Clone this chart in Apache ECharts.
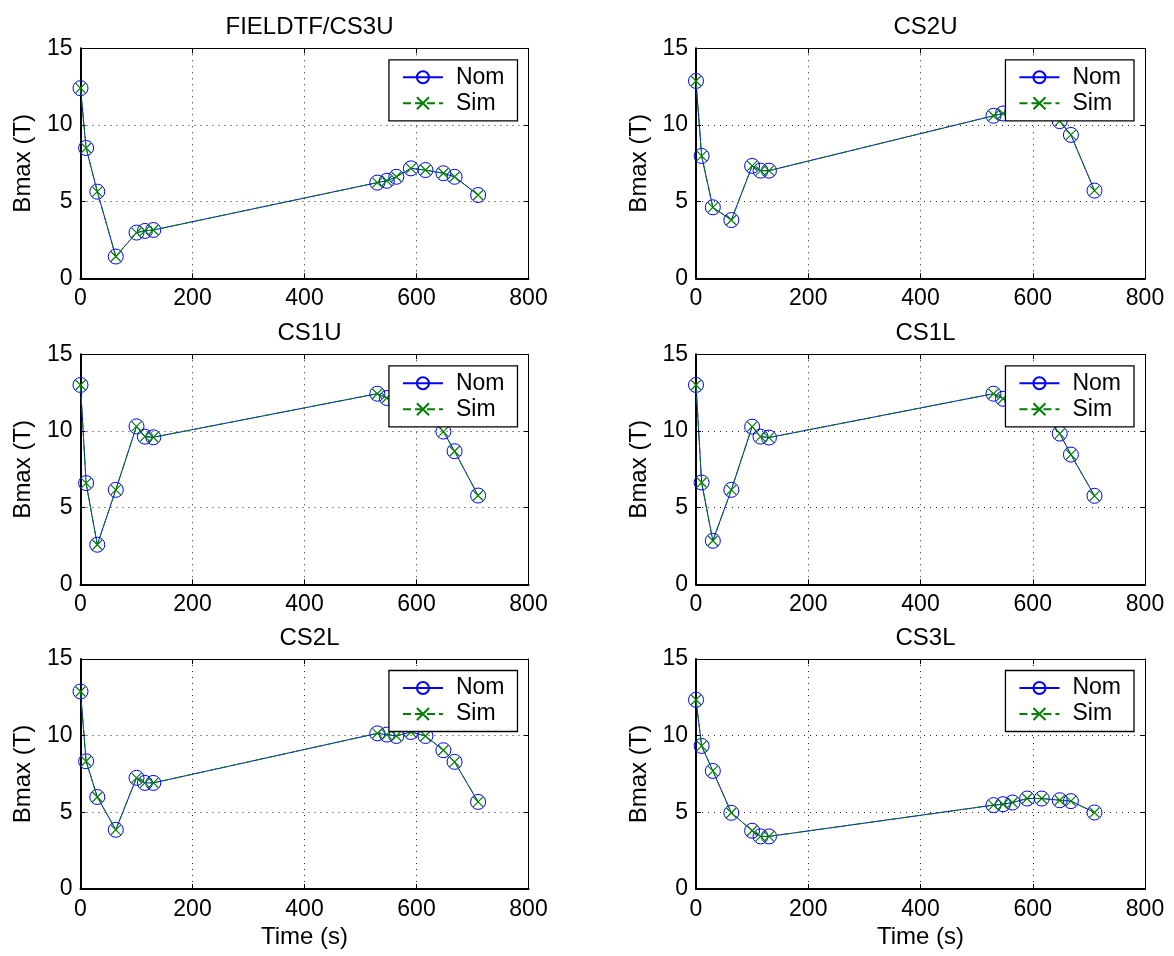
<!DOCTYPE html>
<html>
<head>
<meta charset="utf-8">
<script src="https://cdn.jsdelivr.net/npm/echarts@6/dist/echarts.min.js"></script>
<style>
html,body{margin:0;padding:0;background:#fff;}
#c{width:1174px;height:956px;}
</style>
</head>
<body>
<div id="c"></div>
<script>
// ---- data ----
const timeS = [0, 10, 30, 63, 100, 115, 130, 530, 547, 564, 590, 616, 648, 668, 710];
const titles = ['FIELDTF/CS3U', 'CS2U', 'CS1U', 'CS1L', 'CS2L', 'CS3L'];
const seriesNames = ['Nom', 'Sim'];

const nomCS3U = [12.4, 8.5, 5.65, 1.42, 2.98, 3.09, 3.15, 6.24, 6.36, 6.62, 7.17, 7.06, 6.85, 6.62, 5.43];
const simCS3U = [12.4, 8.5, 5.65, 1.42, 2.98, 3.09, 3.15, 6.24, 6.36, 6.62, 7.17, 7.06, 6.85, 6.62, 5.43];
const nomCS2U = [12.87, 7.98, 4.63, 3.8, 7.33, 7.02, 7.02, 10.6, 10.75, 10.95, 11.15, 10.9, 10.25, 9.35, 5.72];
const simCS2U = [12.87, 7.98, 4.63, 3.8, 7.33, 7.02, 7.02, 10.6, 10.75, 10.95, 11.15, 10.9, 10.25, 9.35, 5.72];
const nomCS1U = [13.0, 6.6, 2.58, 6.16, 10.3, 9.63, 9.59, 12.43, 12.15, 11.95, 11.7, 11.4, 9.96, 8.68, 5.79];
const simCS1U = [13.0, 6.6, 2.58, 6.16, 10.3, 9.63, 9.59, 12.43, 12.15, 11.95, 11.7, 11.4, 9.96, 8.68, 5.79];
const nomCS1L = [13.0, 6.64, 2.84, 6.16, 10.28, 9.63, 9.57, 12.43, 12.1, 11.9, 11.65, 11.35, 9.83, 8.46, 5.77];
const simCS1L = [13.0, 6.64, 2.84, 6.16, 10.28, 9.63, 9.57, 12.43, 12.1, 11.9, 11.65, 11.35, 9.83, 8.46, 5.77];
const nomCS2L = [12.88, 8.33, 6.0, 3.86, 7.25, 6.92, 6.92, 10.15, 10.07, 9.98, 10.24, 9.98, 9.05, 8.29, 5.68];
const simCS2L = [12.88, 8.33, 6.0, 3.86, 7.25, 6.92, 6.92, 10.15, 10.07, 9.98, 10.24, 9.98, 9.05, 8.29, 5.68];
const nomCS3L = [12.34, 9.33, 7.70, 4.97, 3.80, 3.43, 3.43, 5.47, 5.53, 5.64, 5.90, 5.90, 5.79, 5.73, 4.99];
const simCS3L = [12.34, 9.33, 7.70, 4.97, 3.80, 3.43, 3.43, 5.47, 5.53, 5.64, 5.90, 5.90, 5.79, 5.73, 4.99];

const xTicks = [0, 200, 400, 600, 800];
const yTicks = [0, 5, 10, 15];
const xName = 'Time (s)';
const yName = 'Bmax (T)';

// ---- layout / style ----
const FONT = 'Liberation Sans, Arial, Helvetica, sans-serif';
const FS = 23;      // tick labels, legend
const FS_T = 24;    // titles, axis names
const W = 1174;
const colLeft = [80.5, 696];
const colWidth = [448, 449];
const rowTop = [48.3, 354.3, 659];
const plotH = 230;
const BLUE = '#0000ff';
const GREEN = '#008000';

const nomData = [nomCS3U, nomCS2U, nomCS1U, nomCS1L, nomCS2L, nomCS3L];
const simData = [simCS3U, simCS2U, simCS1U, simCS1L, simCS2L, simCS3L];

const grid = [], xAxis = [], yAxis = [], series = [], legend = [], title = [];

const xMin = xTicks[0], xMax = xTicks[xTicks.length - 1], xInt = xTicks[1] - xTicks[0];
const yMin = yTicks[0], yMax = yTicks[yTicks.length - 1], yInt = yTicks[1] - yTicks[0];

for (let i = 0; i < 6; i++) {
  const col = i % 2, row = Math.floor(i / 2);
  const left = colLeft[col], width = colWidth[col], top = rowTop[row];
  grid.push({left: left, top: top, width: width, height: plotH, containLabel: false});

  title.push({
    text: titles[i], left: left + width / 2, top: top - 38, textAlign: 'center',
    textStyle: {fontFamily: FONT, fontSize: FS_T, fontWeight: 'normal', color: '#000'}
  });

  // bottom x
  xAxis.push({
    type: 'value', gridIndex: i, position: 'bottom', min: xMin, max: xMax, interval: xInt,
    name: row === 2 ? xName : '', nameLocation: 'middle', nameGap: 36,
    nameTextStyle: {fontFamily: FONT, fontSize: FS_T, color: '#000'},
    axisLine: {show: true, onZero: false, lineStyle: {color: '#000', width: 2}},
    axisTick: {show: true, inside: true, length: 5, lineStyle: {color: '#000', width: 1}},
    axisLabel: {show: true, margin: 9, fontFamily: FONT, fontSize: FS, color: '#000'},
    splitLine: {show: true, lineStyle: {color: '#222', width: 1, type: [1, 5]}}
  });
  // top x (box + ticks)
  xAxis.push({
    type: 'value', gridIndex: i, position: 'top', min: xMin, max: xMax, interval: xInt,
    axisLine: {show: true, onZero: false, lineStyle: {color: '#000', width: 1}},
    axisTick: {show: true, inside: true, length: 5, lineStyle: {color: '#000', width: 1}},
    axisLabel: {show: false}, splitLine: {show: false}
  });
  // left y
  yAxis.push({
    type: 'value', gridIndex: i, position: 'left', min: yMin, max: yMax, interval: yInt,
    name: yName, nameLocation: 'middle', nameGap: 45,
    nameTextStyle: {fontFamily: FONT, fontSize: FS_T, color: '#000'},
    axisLine: {show: true, onZero: false, lineStyle: {color: '#000', width: 2}},
    axisTick: {show: true, inside: true, length: 5, lineStyle: {color: '#000', width: 1}},
    axisLabel: {show: true, margin: 8, fontFamily: FONT, fontSize: FS, color: '#000'},
    splitLine: {show: true, lineStyle: {color: '#222', width: 1, type: [1, 5]}}
  });
  // right y
  yAxis.push({
    type: 'value', gridIndex: i, position: 'right', min: yMin, max: yMax, interval: yInt,
    axisLine: {show: true, onZero: false, lineStyle: {color: '#000', width: 1}},
    axisTick: {show: true, inside: true, length: 5, lineStyle: {color: '#000', width: 1}},
    axisLabel: {show: false}, splitLine: {show: false}
  });

  series.push({
    name: seriesNames[0], type: 'line', xAxisIndex: 2 * i, yAxisIndex: 2 * i,
    data: timeS.map((t, k) => [t, nomData[i][k]]),
    symbol: 'circle', symbolSize: 15, showAllSymbol: true,
    itemStyle: {color: 'rgba(255,255,255,0)', borderColor: BLUE, borderWidth: 1},
    lineStyle: {color: BLUE, width: 1, type: 'solid'},
    emphasis: {disabled: true}, animation: false, z: 2
  });
  series.push({
    name: seriesNames[1], type: 'line', xAxisIndex: 2 * i, yAxisIndex: 2 * i,
    data: timeS.map((t, k) => [t, simData[i][k]]),
    symbol: 'path://M0,0L10,10M10,0L0,10', symbolSize: 10, showAllSymbol: true,
    itemStyle: {color: GREEN, borderColor: GREEN, borderWidth: 1.2},
    lineStyle: {color: GREEN, width: 1, type: [8, 4]},
    emphasis: {disabled: true}, animation: false, z: 3
  });

  legend.push({
    data: seriesNames, orient: 'vertical', selectedMode: false,
    right: W - (left + width - 11), top: top + 11.5,
    backgroundColor: '#fff', borderColor: '#000', borderWidth: 1.3, borderRadius: 0,
    padding: [6, 13, 6, 13], itemWidth: 40, itemHeight: 15, itemGap: 3,
    textStyle: {fontFamily: FONT, fontSize: FS, color: '#000', padding: [0, 0, 0, 8]},
    z: 10
  });
}

const chart = echarts.init(document.getElementById('c'), null, {renderer: 'canvas'});
chart.setOption({
  animation: false,
  backgroundColor: '#fff',
  title: title, grid: grid, xAxis: xAxis, yAxis: yAxis, series: series, legend: legend
});
</script>
</body>
</html>
